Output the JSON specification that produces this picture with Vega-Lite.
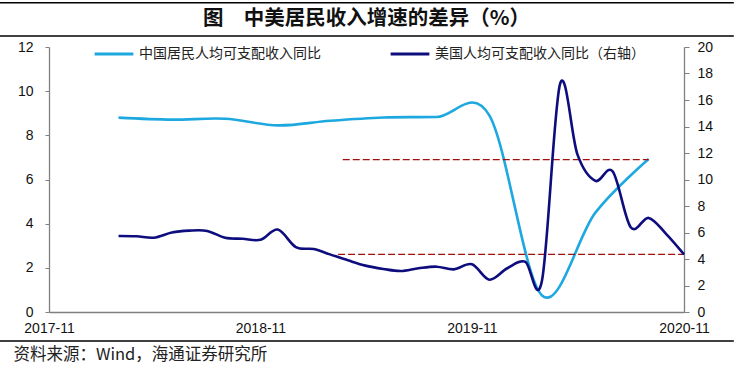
{
  "$schema": "https://vega.github.io/schema/vega-lite/v6.json",
  "autosize": {"type": "none"},
  "width": 635,
  "height": 265,
  "padding": {"left": 49, "top": 47, "right": 50, "bottom": 55},
  "background": "white",
  "datasets": {
    "china": [
      {"date": "2018-03-01", "value": 8.8, "series": "中国居民人均可支配收入同比"},
      {"date": "2018-06-01", "value": 8.71, "series": "中国居民人均可支配收入同比"},
      {"date": "2018-09-01", "value": 8.75, "series": "中国居民人均可支配收入同比"},
      {"date": "2018-12-01", "value": 8.45, "series": "中国居民人均可支配收入同比"},
      {"date": "2019-03-01", "value": 8.66, "series": "中国居民人均可支配收入同比"},
      {"date": "2019-06-01", "value": 8.81, "series": "中国居民人均可支配收入同比"},
      {"date": "2019-09-01", "value": 8.83, "series": "中国居民人均可支配收入同比"},
      {"date": "2019-12-01", "value": 8.9, "series": "中国居民人均可支配收入同比"},
      {"date": "2020-03-01", "value": 0.75, "series": "中国居民人均可支配收入同比"},
      {"date": "2020-06-01", "value": 4.5, "series": "中国居民人均可支配收入同比"},
      {"date": "2020-09-01", "value": 6.93, "series": "中国居民人均可支配收入同比"}
    ],
    "us": [
      {"date": "2018-03-01", "value": 5.74, "series": "美国人均可支配收入同比（右轴）"},
      {"date": "2018-04-01", "value": 5.72, "series": "美国人均可支配收入同比（右轴）"},
      {"date": "2018-05-01", "value": 5.61, "series": "美国人均可支配收入同比（右轴）"},
      {"date": "2018-06-01", "value": 6.0, "series": "美国人均可支配收入同比（右轴）"},
      {"date": "2018-07-01", "value": 6.14, "series": "美国人均可支配收入同比（右轴）"},
      {"date": "2018-08-01", "value": 6.12, "series": "美国人均可支配收入同比（右轴）"},
      {"date": "2018-09-01", "value": 5.6, "series": "美国人均可支配收入同比（右轴）"},
      {"date": "2018-10-01", "value": 5.53, "series": "美国人均可支配收入同比（右轴）"},
      {"date": "2018-11-01", "value": 5.45, "series": "美国人均可支配收入同比（右轴）"},
      {"date": "2018-12-01", "value": 6.22, "series": "美国人均可支配收入同比（右轴）"},
      {"date": "2019-01-01", "value": 4.9, "series": "美国人均可支配收入同比（右轴）"},
      {"date": "2019-02-01", "value": 4.75, "series": "美国人均可支配收入同比（右轴）"},
      {"date": "2019-03-01", "value": 4.35, "series": "美国人均可支配收入同比（右轴）"},
      {"date": "2019-04-01", "value": 3.9, "series": "美国人均可支配收入同比（右轴）"},
      {"date": "2019-05-01", "value": 3.5, "series": "美国人均可支配收入同比（右轴）"},
      {"date": "2019-06-01", "value": 3.25, "series": "美国人均可支配收入同比（右轴）"},
      {"date": "2019-07-01", "value": 3.09, "series": "美国人均可支配收入同比（右轴）"},
      {"date": "2019-08-01", "value": 3.3, "series": "美国人均可支配收入同比（右轴）"},
      {"date": "2019-09-01", "value": 3.42, "series": "美国人均可支配收入同比（右轴）"},
      {"date": "2019-10-01", "value": 3.22, "series": "美国人均可支配收入同比（右轴）"},
      {"date": "2019-11-01", "value": 3.6, "series": "美国人均可支配收入同比（右轴）"},
      {"date": "2019-12-01", "value": 2.44, "series": "美国人均可支配收入同比（右轴）"},
      {"date": "2020-01-01", "value": 3.3, "series": "美国人均可支配收入同比（右轴）"},
      {"date": "2020-02-01", "value": 3.8, "series": "美国人均可支配收入同比（右轴）"},
      {"date": "2020-03-01", "value": 2.4, "series": "美国人均可支配收入同比（右轴）"},
      {"date": "2020-04-01", "value": 17.2, "series": "美国人均可支配收入同比（右轴）"},
      {"date": "2020-05-01", "value": 11.9, "series": "美国人均可支配收入同比（右轴）"},
      {"date": "2020-06-01", "value": 9.9, "series": "美国人均可支配收入同比（右轴）"},
      {"date": "2020-07-01", "value": 10.6, "series": "美国人均可支配收入同比（右轴）"},
      {"date": "2020-08-01", "value": 6.4, "series": "美国人均可支配收入同比（右轴）"},
      {"date": "2020-09-01", "value": 7.1, "series": "美国人均可支配收入同比（右轴）"},
      {"date": "2020-10-01", "value": 5.9, "series": "美国人均可支配收入同比（右轴）"},
      {"date": "2020-11-01", "value": 4.35, "series": "美国人均可支配收入同比（右轴）"}
    ],
    "refs": [
      {"start": "2019-03-23", "end": "2020-09-01", "value": 11.5},
      {"start": "2019-03-15", "end": "2020-11-01", "value": 4.35}
    ]
  },
  "layer": [
    {
      "layer": [
        {
          "data": {"name": "china"},
          "mark": {"type": "line", "interpolate": "cardinal", "strokeWidth": 2.6},
          "encoding": {
            "x": {"field": "date", "type": "temporal", "title": "资料来源：Wind，海通证券研究所",
              "scale": {"type": "utc", "nice": false, "domain": [{"year": 2017, "month": 11, "date": 1, "utc": true}, {"year": 2020, "month": 11, "date": 1, "utc": true}]},
              "axis": {"values": [{"year": 2017, "month": 11, "date": 1, "utc": true}, {"year": 2018, "month": 11, "date": 1, "utc": true}, {"year": 2019, "month": 11, "date": 1, "utc": true}, {"year": 2020, "month": 11, "date": 1, "utc": true}], "format": "%Y-%m"}},
            "y": {"field": "value", "type": "quantitative", "title": null,
              "scale": {"domain": [0, 12], "nice": false},
              "axis": {"orient": "left", "values": [0, 2, 4, 6, 8, 10, 12], "tickSize": 4, "labelPadding": 12, "labelOverlap": false, "grid": false}},
            "color": {"field": "series", "type": "nominal", "title": null,
              "scale": {"domain": ["中国居民人均可支配收入同比", "美国人均可支配收入同比（右轴）"], "range": ["#1EA8E0", "#0D0D7E"]},
              "legend": {"orient": "none", "legendX": 44, "legendY": -14, "direction": "horizontal", "title": null}}
          }
        },
        {
          "data": {"values": [{}]},
          "mark": {"type": "rule", "color": "#000000", "strokeWidth": 1.5, "clip": false},
          "encoding": {
            "x": {"datum": {"year": 2017, "month": 8, "date": 8, "utc": true}, "type": "temporal", "title": "资料来源：Wind，海通证券研究所"},
            "x2": {"datum": {"year": 2021, "month": 1, "date": 26, "utc": true}},
            "y": {"datum": 14.0, "type": "quantitative", "title": null}
          }
        },
        {
          "data": {"values": [{}]},
          "mark": {"type": "rule", "color": "#000000", "strokeWidth": 1.5, "clip": false},
          "encoding": {
            "x": {"datum": {"year": 2017, "month": 8, "date": 8, "utc": true}, "type": "temporal", "title": "资料来源：Wind，海通证券研究所"},
            "x2": {"datum": {"year": 2021, "month": 1, "date": 26, "utc": true}},
            "y": {"datum": 12.5, "type": "quantitative", "title": null}
          }
        },
        {
          "data": {"values": [{}]},
          "mark": {"type": "rule", "color": "#000000", "strokeWidth": 1.5, "clip": false},
          "encoding": {
            "x": {"datum": {"year": 2017, "month": 8, "date": 8, "utc": true}, "type": "temporal", "title": "资料来源：Wind，海通证券研究所"},
            "x2": {"datum": {"year": 2021, "month": 1, "date": 26, "utc": true}},
            "y": {"datum": -1.31, "type": "quantitative", "title": null}
          }
        },
        {
          "data": {"values": [{"label": "图　中美居民收入增速的差异（%）"}]},
          "mark": {"type": "text", "font": "Noto Sans CJK SC", "fontSize": 20.5, "fontWeight": "bold", "color": "#111111", "align": "center", "baseline": "middle", "clip": false},
          "encoding": {
            "text": {"field": "label"},
            "x": {"datum": {"year": 2019, "month": 5, "date": 3, "utc": true}, "type": "temporal", "title": "资料来源：Wind，海通证券研究所"},
            "y": {"datum": 13.27, "type": "quantitative", "title": null}
          }
        }
      ]
    },
    {
      "layer": [
        {
          "data": {"name": "refs"},
          "mark": {"type": "rule", "color": "#A01010", "strokeWidth": 1.2, "strokeDash": [7, 3]},
          "encoding": {
            "x": {"field": "start", "type": "temporal", "title": "资料来源：Wind，海通证券研究所"},
            "x2": {"field": "end"},
            "y": {"field": "value", "type": "quantitative", "title": null,
              "scale": {"domain": [0, 20], "nice": false},
              "axis": {"orient": "right", "values": [0, 2, 4, 6, 8, 10, 12, 14, 16, 18, 20], "tickSize": 5, "labelPadding": 8, "labelOverlap": false, "grid": false}}
          }
        },
        {
          "data": {"name": "us"},
          "mark": {"type": "line", "interpolate": "cardinal", "strokeWidth": 2.6},
          "encoding": {
            "x": {"field": "date", "type": "temporal", "title": "资料来源：Wind，海通证券研究所"},
            "y": {"field": "value", "type": "quantitative", "title": null,
              "scale": {"domain": [0, 20], "nice": false},
              "axis": {"orient": "right", "values": [0, 2, 4, 6, 8, 10, 12, 14, 16, 18, 20], "tickSize": 5, "labelPadding": 8, "labelOverlap": false, "grid": false}},
            "color": {"field": "series", "type": "nominal", "title": null,
              "legend": {"orient": "none", "legendX": 44, "legendY": -14, "direction": "horizontal", "title": null}}
          }
        }
      ]
    }
  ],
  "resolve": {"scale": {"y": "independent"}},
  "config": {
    "view": {"stroke": null},
    "axis": {
      "domainColor": "#808080",
      "domainWidth": 1.3,
      "tickColor": "#808080",
      "labelFont": "Liberation Sans",
      "labelFontSize": 14,
      "labelColor": "#111111",
      "labelOverlap": false,
      "grid": false
    },
    "axisX": {
      "ticks": false,
      "labelPadding": 9,
      "labelFlush": false,
      "labelOverlap": false,
      "titleFont": "Noto Sans CJK SC",
      "titleFontSize": 16.5,
      "titleFontWeight": "normal",
      "titleColor": "#222222",
      "titleAnchor": "start",
      "titleAlign": "left",
      "titleBaseline": "middle",
      "titleX": -36,
      "titleY": 42
    },
    "legend": {
      "symbolType": "stroke",
      "symbolSize": 1500,
      "symbolStrokeWidth": 3,
      "labelFont": "Noto Sans CJK SC",
      "labelFontSize": 14,
      "labelLimit": 400,
      "labelColor": "#222222",
      "labelOffset": 4,
      "columnPadding": 63
    }
  }
}
